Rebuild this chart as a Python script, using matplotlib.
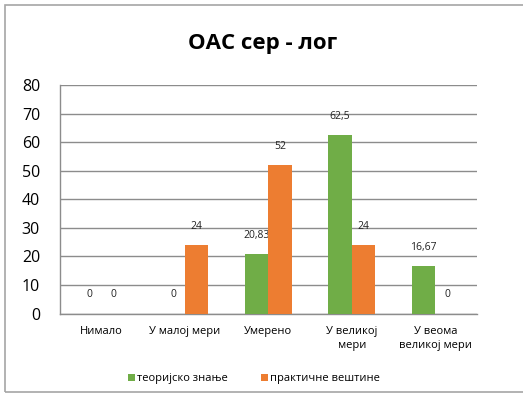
import numpy as np
import matplotlib
matplotlib.use('Agg')
import matplotlib.pyplot as plt
from matplotlib.patches import Rectangle

plt.rcParams['font.family'] = ['Open Sans', 'DejaVu Sans']

#-------------------------------------------------------------------------------
# Data
#-------------------------------------------------------------------------------
categories = ['Нимало', 'У малој мери', 'Умерено', 'У великој\nмери', 'У веома\nвеликој мери']
theory     = [0, 0, 20.83, 62.5, 16.67]
practice   = [0, 24, 52, 24, 0]
series     = ['теоријско знање', 'практичне вештине']
colors     = ['#70AD47', '#ED7D31']
title      = 'ОАС сер - лог'

#-------------------------------------------------------------------------------
# Figure
#-------------------------------------------------------------------------------
W, H = 523, 394
fig = plt.figure(figsize=(W / 100, H / 100), dpi=100)
ax  = fig.add_axes([59.5 / W, 1 - 313.5 / H, 417.5 / W, 228.5 / H])

# outer frame (right side runs off the canvas)
fig.patches.append(Rectangle((5 / W, 2 / H), 1.1, 1 - 7 / H, transform=fig.transFigure,
                             fill=False, edgecolor='#A6A6A6', linewidth=1.2, zorder=0))

x  = np.arange(len(categories))
bw = 0.28
handles = []
for i, (vals, c, name) in enumerate(zip([theory, practice], colors, series)):
    xs = x + (i - 0.5) * bw
    b  = ax.bar(xs, vals, width=bw, color=c, label=name, zorder=3)
    handles.append(b)
    for xx, v in zip(xs, vals):
        lbl = f'{v:g}'.replace('.', ',')
        ax.annotate(lbl, (xx, v), xytext=(0, 13.5), textcoords='offset points',
                    ha='center', va='center', fontsize=7.5, color='#222222')

ax.set_xlim(-0.5, len(categories) - 0.5)
ax.set_ylim(0, 80)
ax.set_yticks(range(0, 81, 10))
ax.set_xticks(x)
ax.set_xticklabels(categories, fontsize=8, linespacing=1.35)
ax.tick_params(axis='y', labelsize=11.5, length=0, pad=14)
ax.tick_params(axis='x', length=0, pad=9)
ax.yaxis.grid(True, color='#8C8C8C', linewidth=1.0, zorder=0)
ax.set_axisbelow(True)

for s in ['top', 'right']:
    ax.spines[s].set_visible(False)
for s in ['left', 'bottom']:
    ax.spines[s].set_color('#8C8C8C')
    ax.spines[s].set_linewidth(1.0)

fig.text(263 / W, 1 - 44 / H, title, ha='center', va='center',
         fontsize=16, fontweight='bold')

fig.legend(handles=handles, labels=series, loc='center', bbox_to_anchor=(254 / W, 1 - 379 / H),
           ncol=2, frameon=False, fontsize=8, handlelength=0.6, handleheight=0.6,
           handletextpad=0.2, columnspacing=3.0)

fig.savefig('out.png', dpi=100)
